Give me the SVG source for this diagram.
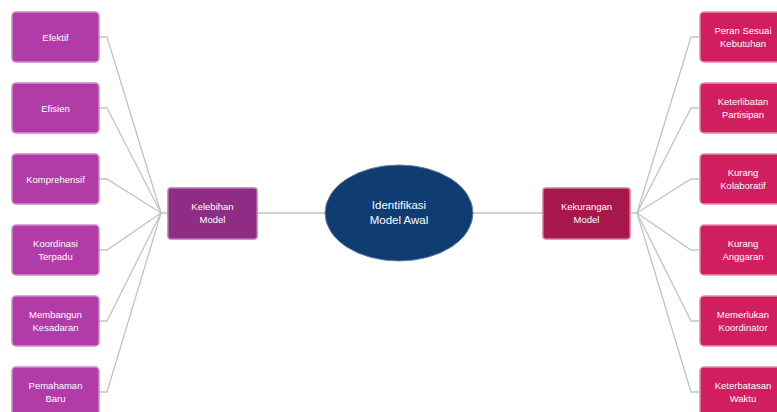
<svg xmlns="http://www.w3.org/2000/svg" width="777" height="412" viewBox="0 0 777 412">
  <style>
    .link { fill: none; stroke: #bcc7c3; stroke-width: 1.3; }
    .pro { fill: #b13ca8; stroke: #d089ca; stroke-width: 1.5; }
    .con { fill: #d01e5f; stroke: #e68aac; stroke-width: 1.5; }
    .hubL { fill: #8f2c85; stroke: #b676ae; stroke-width: 1.5; }
    .hubR { fill: #a8174b; stroke: #cf7c99; stroke-width: 1.5; }
    .root { fill: #0f3d72; stroke: #5d7ea4; stroke-width: 1; }
    text { font-family: "Liberation Sans", Arial, sans-serif; fill: #ffffff; text-anchor: middle; font-size: 9.5px; }
    .big { font-size: 11.5px; }
  </style>
  <rect width="777" height="412" fill="#ffffff"/>

  <g id="connectors">
    <path class="link" d="M257,213 H325"/>
    <path class="link" d="M473,213 H543"/>
    <path class="link" d="M99,37 H107 L161,213 H168"/>
    <path class="link" d="M99,108 H107 L161,213"/>
    <path class="link" d="M99,179 H107 L161,213"/>
    <path class="link" d="M99,250 H107 L161,213"/>
    <path class="link" d="M99,321 H107 L161,213"/>
    <path class="link" d="M99,392 H107 L161,213"/>
    <path class="link" d="M630,213 H637 L691,37 H699"/>
    <path class="link" d="M637,213 L691,108 H699"/>
    <path class="link" d="M637,213 L691,179 H699"/>
    <path class="link" d="M637,213 L691,250 H699"/>
    <path class="link" d="M637,213 L691,321 H699"/>
    <path class="link" d="M637,213 L691,392 H699"/>
  </g>

  <g id="root">
    <ellipse class="root" cx="399" cy="213" rx="74" ry="48"/>
    <text class="big" x="399" y="209">Identifikasi</text>
    <text class="big" x="399" y="224">Model Awal</text>
  </g>

  <g id="kelebihan">
    <rect class="hubL" x="168" y="188" width="89" height="51" rx="3"/>
    <text x="212.5" y="210">Kelebihan</text>
    <text x="212.5" y="223">Model</text>
  </g>

  <g id="kekurangan">
    <rect class="hubR" x="543" y="188" width="87" height="51" rx="3"/>
    <text x="586.5" y="210">Kekurangan</text>
    <text x="586.5" y="223">Model</text>
  </g>

  <g id="efektif">
    <rect class="pro" x="12" y="12" width="87" height="50" rx="4"/>
    <text x="55.5" y="40.5">Efektif</text>
  </g>
  <g id="efisien">
    <rect class="pro" x="12" y="83" width="87" height="50" rx="4"/>
    <text x="55.5" y="111.5">Efisien</text>
  </g>
  <g id="komprehensif">
    <rect class="pro" x="12" y="154" width="87" height="50" rx="4"/>
    <text x="55.5" y="182.5">Komprehensif</text>
  </g>
  <g id="koordinasi-terpadu">
    <rect class="pro" x="12" y="225" width="87" height="50" rx="4"/>
    <text x="55.5" y="247">Koordinasi</text>
    <text x="55.5" y="260">Terpadu</text>
  </g>
  <g id="membangun-kesadaran">
    <rect class="pro" x="12" y="296" width="87" height="50" rx="4"/>
    <text x="55.5" y="318">Membangun</text>
    <text x="55.5" y="331">Kesadaran</text>
  </g>
  <g id="pemahaman-baru">
    <rect class="pro" x="12" y="367" width="87" height="50" rx="4"/>
    <text x="55.5" y="389">Pemahaman</text>
    <text x="55.5" y="402">Baru</text>
  </g>

  <g id="peran-sesuai">
    <rect class="con" x="700" y="12" width="87" height="50" rx="4"/>
    <text x="743" y="34">Peran Sesuai</text>
    <text x="743" y="47">Kebutuhan</text>
  </g>
  <g id="keterlibatan">
    <rect class="con" x="700" y="83" width="87" height="50" rx="4"/>
    <text x="743" y="105">Keterlibatan</text>
    <text x="743" y="118">Partisipan</text>
  </g>
  <g id="kurang-kolaboratif">
    <rect class="con" x="700" y="154" width="87" height="50" rx="4"/>
    <text x="743" y="176">Kurang</text>
    <text x="743" y="189">Kolaboratif</text>
  </g>
  <g id="kurang-anggaran">
    <rect class="con" x="700" y="225" width="87" height="50" rx="4"/>
    <text x="743" y="247">Kurang</text>
    <text x="743" y="260">Anggaran</text>
  </g>
  <g id="memerlukan-koordinator">
    <rect class="con" x="700" y="296" width="87" height="50" rx="4"/>
    <text x="743" y="318">Memerlukan</text>
    <text x="743" y="331">Koordinator</text>
  </g>
  <g id="keterbatasan-waktu">
    <rect class="con" x="700" y="367" width="87" height="50" rx="4"/>
    <text x="743" y="389">Keterbatasan</text>
    <text x="743" y="402">Waktu</text>
  </g>
</svg>
